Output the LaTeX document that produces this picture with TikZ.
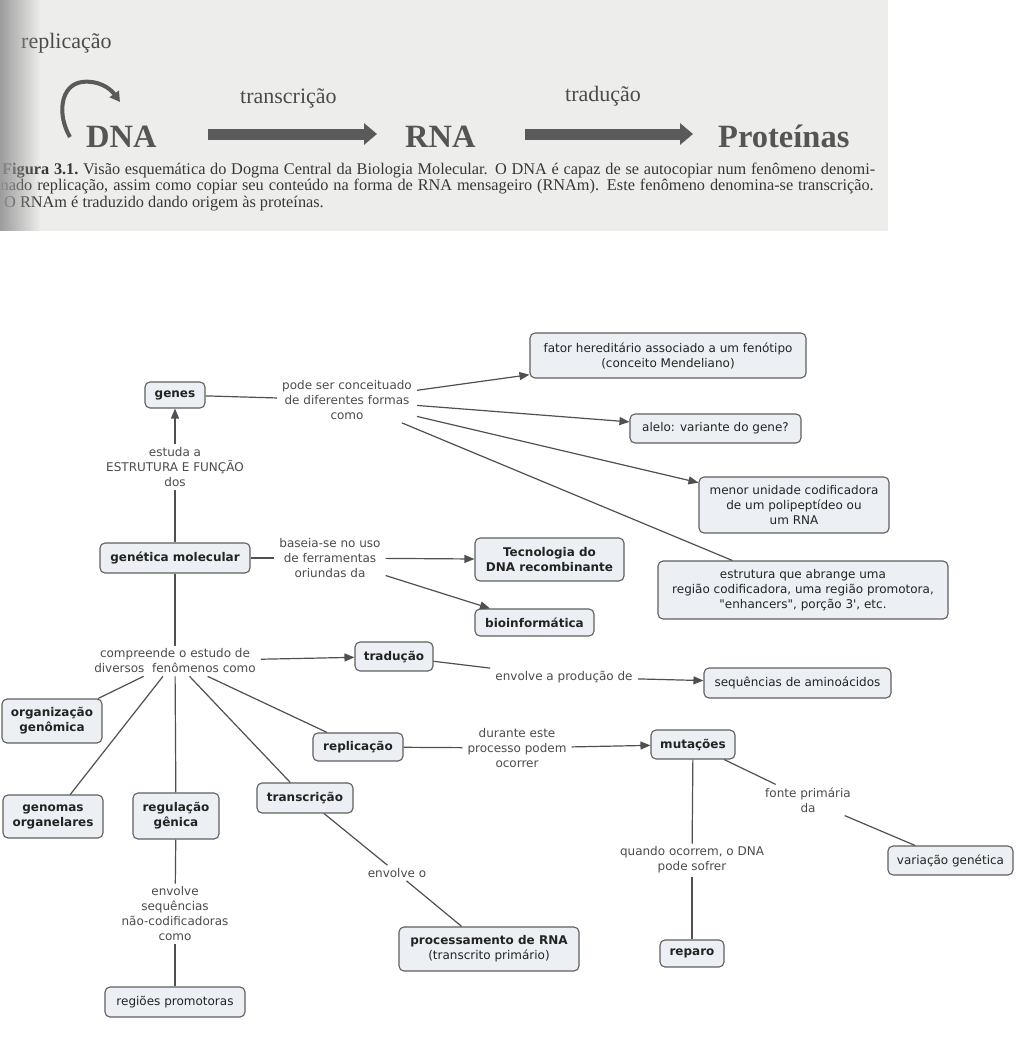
\documentclass[tikz,border=0pt]{standalone}
\usepackage{fontspec}
\setmainfont{Liberation Serif}
\newfontfamily\cmapf{DejaVu Sans}
\newfontfamily\bookf{Liberation Serif}
\usetikzlibrary{arrows.meta,fadings}
\definecolor{pagebg}{RGB}{237,237,235}
\definecolor{shadowc}{RGB}{150,150,150}
\definecolor{booktext}{RGB}{75,75,75}
\definecolor{bigtext}{RGB}{85,85,85}
\definecolor{blockc}{RGB}{90,90,90}
\definecolor{capc}{RGB}{55,55,55}
\definecolor{boxfill}{RGB}{236,240,244}
\definecolor{boxline}{RGB}{95,95,95}
\definecolor{ctext}{RGB}{35,35,35}
\definecolor{ltext}{RGB}{75,75,75}
\definecolor{linec}{RGB}{80,80,80}
\tikzfading[name=fadeleft, left color=transparent!0, right color=transparent!100]
\begin{document}
\begin{tikzpicture}[x=1pt,y=-1pt,
 concept/.style={rectangle, rounded corners=5pt, draw=boxline, fill=boxfill, line width=1.1pt, font=\cmapf\fontsize{12}{15}\selectfont, text=ctext, align=center, inner sep=0pt},
 bconcept/.style={concept, font=\cmapf\bfseries\fontsize{12}{15}\selectfont},
 linklabel/.style={font=\cmapf\fontsize{12}{15}\selectfont, text=ltext, align=center, inner xsep=5pt, inner ysep=3pt},
 conn/.style={draw=linec, line width=1.2pt},
 arr/.style={conn, -{Triangle[length=10pt,width=8pt]}},
 bigword/.style={font=\bookf\bfseries\fontsize{32.5}{34}\selectfont, text=bigtext, inner sep=0pt, anchor=base west},
 bookword/.style={font=\bookf\fontsize{22}{24}\selectfont, text=booktext, inner sep=0pt, anchor=base west},
 capline/.style={font=\bookf\fontsize{16.3}{16.5}\selectfont, text=capc, inner sep=0pt, anchor=base west},
 block/.style={draw=blockc, line width=11pt, -{Triangle[length=13pt,width=21pt]}},
]
\useasboundingbox (0,0) rectangle (1015,1055);
\fill[white] (0,0) rectangle (1015,1055);

% ---------- top: scanned book figure ----------
\fill[pagebg] (0,0) rectangle (888,231);
\node[bookword] (replab) at (21,48) {replicação};
\node[bigword] (dna) at (86,147) {DNA};
\node[bigword] (rna) at (405,147) {RNA};
\node[bigword] (prot) at (718,147.5) {Proteínas};
\node[bookword] (tclab) at (240,103) {transcrição};
\node[bookword] (tdlab) at (565,101) {tradução};

\coordinate (arcs) at (70,137);
\coordinate (arct) at (82,82);
\coordinate (arce) at (120,102);
\draw[draw=blockc, line width=4pt, -{Triangle[length=10pt,width=11pt]}]
  (arcs) .. controls (57,115) and (60,85) .. (arct) .. controls (98,80) and (110,88) .. (arce);

\coordinate (b1s) at (208,134);
\coordinate (b1e) at (377,134);
\coordinate (b2s) at (525,134);
\coordinate (b2e) at (693,134);
\draw[block] (b1s) -- (b1e);
\draw[block] (b2s) -- (b2e);

\node[capline] (cap1) at (2,174) {\makebox[873pt][s]{\bfseries Figura 3.1.\mdseries\ Visão esquemática do Dogma Central da Biologia Molecular. O DNA é capaz de se autocopiar num fenômeno denomi-}};
\node[capline] (cap2) at (0.5,190.5) {\makebox[873pt][s]{nado replicação, assim como copiar seu conteúdo na forma de RNA mensageiro (RNAm). Este fenômeno denomina-se transcrição.}};
\node[capline] (cap3) at (4,207) {O RNAm é traduzido dando origem às proteínas.};

\fill[shadowc, path fading=fadeleft, fill opacity=0.92] (0,0) rectangle (40,231);

% ---------- concept map ----------
\node[bconcept, minimum width=60pt, minimum height=26pt] (genes) at (175,395) {genes};
\node[concept, minimum width=276pt, minimum height=45pt] (fator) at (668,355.5) {fator hereditário associado a um fenótipo\\(conceito Mendeliano)};
\node[concept, minimum width=171pt, minimum height=29pt] (alelo) at (715.5,428.5) {alelo: variante do gene?};
\node[concept, minimum width=190pt, minimum height=56pt] (menor) at (794,505) {menor unidade codificadora\\de um polipeptídeo ou\\um RNA};
\node[concept, minimum width=290pt, minimum height=58pt] (estr) at (803,590) {estrutura que abrange uma\\região codificadora, uma região promotora,\\"enhancers", porção 3', etc.};
\node[bconcept, minimum width=150pt, minimum height=30pt] (gen) at (175,558) {genética molecular};
\node[bconcept, minimum width=149pt, minimum height=43pt] (tec) at (549.5,559.5) {Tecnologia do\\DNA recombinante};
\node[bconcept, minimum width=119pt, minimum height=27pt] (bio) at (534.5,622.5) {bioinformática};
\node[bconcept, minimum width=78pt, minimum height=29pt] (trad) at (394,656.5) {tradução};
\node[concept, minimum width=187pt, minimum height=30pt] (seq) at (797.5,683) {sequências de aminoácidos};
\node[bconcept, minimum width=100pt, minimum height=44pt] (org) at (52,721) {organização\\genômica};
\node[bconcept, minimum width=90pt, minimum height=28pt] (repl) at (358,747) {replicação};
\node[bconcept, minimum width=84pt, minimum height=29pt] (mut) at (693,744.5) {mutações};
\node[bconcept, minimum width=100pt, minimum height=43pt] (genom) at (53,816.5) {genomas\\organelares};
\node[bconcept, minimum width=86pt, minimum height=46pt] (reg) at (176,816) {regulação\\gênica};
\node[bconcept, minimum width=96pt, minimum height=30pt] (transc) at (305,798) {transcrição};
\node[concept, minimum width=125pt, minimum height=29pt] (var) at (950.5,860.5) {variação genética};
\node[concept, minimum width=180pt, minimum height=44pt] (proc) at (489,949) {\textbf{processamento de RNA}\\(transcrito primário)};
\node[bconcept, minimum width=64pt, minimum height=27pt] (rep) at (692,953.5) {reparo};
\node[concept, minimum width=140pt, minimum height=30pt] (prom) at (175,1002) {regiões promotoras};

\node[linklabel] (lpode) at (347,400) {pode ser conceituado\\de diferentes formas\\como};
\node[linklabel] (lestuda) at (175,467) {estuda a\\ESTRUTURA E FUNÇÃO\\dos};
\node[linklabel] (lbase) at (330,558) {baseia-se no uso\\de ferramentas\\oriundas da};
\node[linklabel] (lcomp) at (175,661) {compreende o estudo de\\diversos\ \ fenômenos como};
\node[linklabel] (lprod) at (564,677) {envolve a produção de};
\node[linklabel] (ldur) at (517,748) {durante este\\processo podem\\ocorrer};
\node[linklabel] (lfonte) at (808,800) {fonte primária\\da};
\node[linklabel] (lquando) at (692,860) {quando ocorrem, o DNA\\pode sofrer};
\node[linklabel] (lenv) at (175,914) {envolve\\sequências\\não-codificadoras\\como};
\node[linklabel] (lenvo) at (397,873) {envolve o};

\draw[conn] (genes) -- (lpode);
\draw[arr] (lpode) -- (fator);
\draw[arr] (lpode) -- (alelo);
\draw[arr] (lpode) -- (menor);
\draw[conn] (lpode) -- (estr);
\draw[conn] (gen) -- (lestuda);
\draw[arr] (lestuda) -- (genes);
\draw[conn] (gen) -- (lbase);
\draw[arr] (lbase) -- (tec);
\draw[arr] (lbase) -- (bio);
\draw[conn] (gen) -- (lcomp);
\draw[arr] (lcomp) -- (trad);
\draw[conn] (lcomp) -- (org);
\draw[conn] (lcomp) -- (genom);
\draw[conn] (lcomp) -- (reg);
\draw[conn] (lcomp) -- (transc);
\draw[conn] (lcomp) -- (repl);
\draw[conn] (trad) -- (lprod);
\draw[arr] (lprod) -- (seq);
\draw[conn] (repl) -- (ldur);
\draw[arr] (ldur) -- (mut);
\draw[conn] (mut) -- (lfonte);
\draw[conn] (lfonte) -- (var);
\draw[conn] (mut) -- (lquando);
\draw[conn] (lquando) -- (rep);
\draw[conn] (reg) -- (lenv);
\draw[conn] (lenv) -- (prom);
\draw[conn] (transc) -- (lenvo);
\draw[conn] (lenvo) -- (proc);
\end{tikzpicture}
\end{document}
